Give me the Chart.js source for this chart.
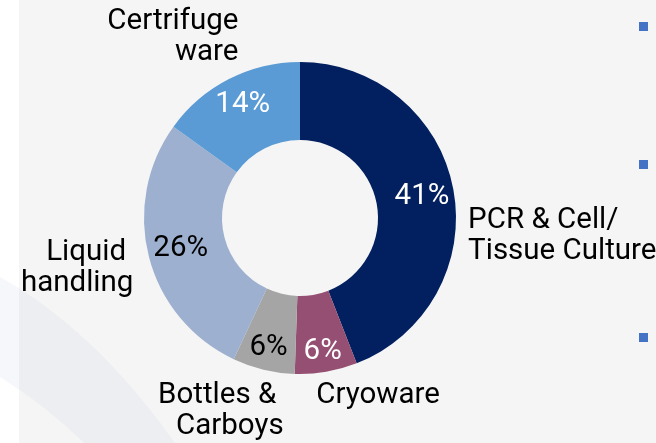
<!DOCTYPE html>
<html>
<head>
<meta charset="utf-8">
<script src="https://cdn.jsdelivr.net/npm/chart.js@4"></script>
<style>
  html, body { margin: 0; padding: 0; background: #ffffff; }
  #wrap { width: 656px; height: 443px; }
</style>
</head>
<body>
<div id="wrap"><canvas id="c" width="656" height="443"></canvas></div>
<script>
// segment names, one entry per line of text
const categories = [
  ['PCR & Cell/', 'Tissue Culture'],
  ['Cryoware'],
  ['Bottles & ', 'Carboys'],
  ['Liquid ', 'handling'],
  ['Certrifuge', 'ware']
]
// share of each segment, in %
const shares = [41, 6, 6, 26, 14]

const colors = ['#02205f', '#954f72', '#a5a5a5', '#9db0cf', '#5b9bd5']
const valueColors = ['#ffffff', '#ffffff', '#000000', '#000000', '#ffffff']

// small shifts for the text, like hand-placed labels
const valueNudge = [[7, 0], [3, 18], [-4, 16], [-6, 1], [-4, -9]]
const nameNudge = [[3, 41], [-12, 19], [23, 22], [-4, 0], [15, -39]]
const nameAlign = ['left', 'left', 'right', 'right', 'right']

const FONT = '29.5px Roboto'
const LINE = 31

// page background: grey panel, white strip on the left, faint swoosh
const backdrop = {
  id: 'backdrop',
  beforeDraw(chart) {
    let ctx = chart.ctx
    ctx.save()
    ctx.fillStyle = '#ffffff'
    ctx.fillRect(0, 0, chart.width, chart.height)
    ctx.fillStyle = '#f5f5f5'
    ctx.fillRect(19, 0, chart.width - 19, chart.height)
    ctx.beginPath()
    ctx.moveTo(0, 277)
    ctx.quadraticCurveTo(95, 330, 175, 443)
    ctx.lineTo(84, 443)
    ctx.quadraticCurveTo(45, 405, 0, 377)
    ctx.closePath()
    ctx.fillStyle = 'rgba(190,198,222,0.15)'
    ctx.fill()
    ctx.restore()
  }
}

// percentages inside the ring and names outside it
const sliceLabels = {
  id: 'sliceLabels',
  afterDatasetsDraw(chart) {
    let ctx = chart.ctx
    let meta = chart.getDatasetMeta(0)
    ctx.save()
    ctx.font = FONT
    meta.data.forEach((arc, i) => {
      let p = arc.getProps(['x', 'y', 'startAngle', 'endAngle', 'innerRadius', 'outerRadius'], true)
      let mid = (p.startAngle + p.endAngle) / 2
      let cos = Math.cos(mid), sin = Math.sin(mid)

      // value
      let rv = (p.innerRadius + p.outerRadius) / 2
      ctx.fillStyle = valueColors[i]
      ctx.textAlign = 'center'
      ctx.textBaseline = 'middle'
      ctx.fillText(shares[i] + '%', p.x + cos * rv + valueNudge[i][0], p.y + sin * rv + valueNudge[i][1])

      // name
      let rn = p.outerRadius + 12
      let nx = p.x + cos * rn + nameNudge[i][0]
      let ny = p.y + sin * rn + nameNudge[i][1]
      ctx.fillStyle = '#000000'
      ctx.textAlign = nameAlign[i]
      ctx.textBaseline = 'alphabetic'
      categories[i].forEach((line, k) => {
        ctx.fillText(line, nx, ny + k * LINE)
      })
    })

    // bullet markers of the neighbouring text column
    ctx.fillStyle = '#4472c4'
    ;[22, 160, 333].forEach(by => ctx.fillRect(639, by, 9, 9))
    ctx.restore()
  }
}

let chart = new Chart(document.getElementById('c'), {
  type: 'doughnut',
  data: {
    labels: categories,
    datasets: [{
      data: shares,
      backgroundColor: colors,
      borderWidth: 0
    }]
  },
  options: {
    responsive: false,
    animation: false,
    cutout: '50%',
    layout: { padding: { top: 62, bottom: 69, left: 144, right: 200 } },
    plugins: {
      legend: { display: false },
      tooltip: { enabled: false }
    }
  },
  plugins: [backdrop, sliceLabels]
})
</script>
</body>
</html>
